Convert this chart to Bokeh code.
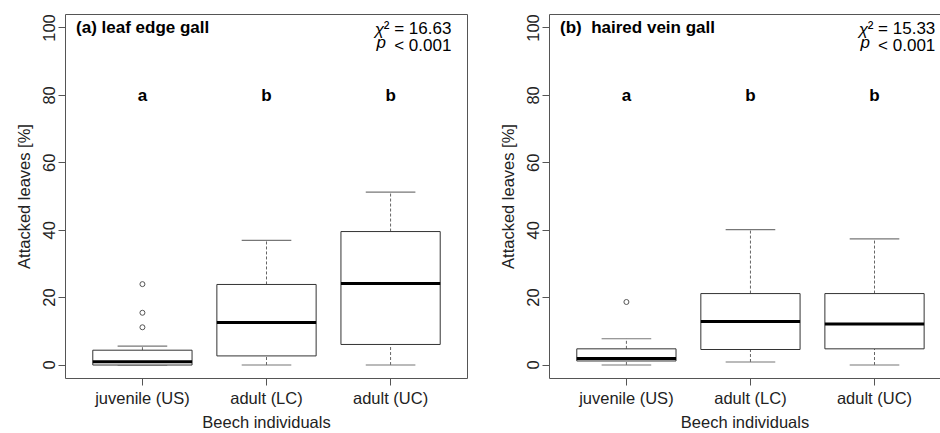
from bokeh.plotting import figure
from bokeh.layouts import row
from bokeh.models import Range1d, FixedTicker, LinearAxis, ColumnDataSource
from bokeh.core.properties import value
from bokeh.embed import file_html
from bokeh.resources import INLINE

# ---------------- data ----------------
categories = ["juvenile (US)", "adult (LC)", "adult (UC)"]
positions = [1, 2, 3]
sig_letters = ["a", "b", "b"]
letter_y = [80, 80, 80]

# panel (a) leaf edge gall
a_title = "(a) leaf edge gall"
a_chi = "² = 16.63"
a_q1 = [0.0, 2.7, 6.1]
a_med = [1.0, 12.6, 24.2]
a_q3 = [4.4, 23.9, 39.6]
a_lo = [0.0, 0.0, 0.0]
a_hi = [5.6, 37.0, 51.3]
a_out_pos = [1, 1, 1]
a_out = [24.0, 15.5, 11.2]

# panel (b) haired vein gall
b_title = "(b)\u00a0 haired vein gall"
b_chi = "² = 15.33"
b_q1 = [1.2, 4.6, 4.8]
b_med = [1.9, 12.9, 12.2]
b_q3 = [4.8, 21.2, 21.2]
b_lo = [0.0, 0.9, 0.0]
b_hi = [7.8, 40.2, 37.4]
b_out_pos = [1]
b_out = [18.7]

p_text = "< 0.001"
y_ticks = [0, 20, 40, 60, 80, 100]
y_label = "Attacked leaves [%]"
x_label = "Beech individuals"

FONT = "Liberation Sans"
BOXW = 0.8
CAPW = 0.4
FRAME = "#555555"
FS = "16.5px"


def make_panel(title, chi, q1, med, q3, lo, hi, out_pos, out, x_end, left_border, full_outline):
    p = figure(width=470, height=433,
               x_range=Range1d(0.38, x_end), y_range=Range1d(-4, 104),
               output_backend="svg", toolbar_location=None,
               min_border_left=left_border, min_border_right=(3 if full_outline else 0),
               min_border_top=14, min_border_bottom=55,
               background_fill_color="white", border_fill_color="white")
    p.xgrid.visible = False
    p.ygrid.visible = False
    p.outline_line_color = FRAME if full_outline else None

    # axes
    for ax in (p.xaxis[0], p.yaxis[0]):
        ax.major_tick_out = 7
        ax.major_tick_in = 0
        ax.minor_tick_line_color = None
        ax.major_tick_line_color = FRAME
        ax.axis_line_color = None if full_outline else FRAME
        ax.major_label_text_font = FONT
        ax.major_label_text_font_size = FS
        ax.major_label_text_color = "#222222"
        ax.axis_label_text_font = FONT
        ax.axis_label_text_font_size = FS
        ax.axis_label_text_font_style = "normal"
        ax.axis_label_text_color = "#222222"
    p.xaxis.ticker = FixedTicker(ticks=positions)
    p.xaxis.major_label_overrides = {pos: c for pos, c in zip(positions, categories)}
    p.xaxis.major_label_standoff = 3
    p.xaxis.axis_label = x_label
    p.xaxis.axis_label_standoff = 3
    p.yaxis.ticker = FixedTicker(ticks=y_ticks)
    p.yaxis.major_label_orientation = "vertical"
    p.yaxis.major_label_standoff = 3
    p.yaxis.axis_label = y_label
    p.yaxis.axis_label_standoff = 8

    if not full_outline:
        top = LinearAxis(ticker=FixedTicker(ticks=[]), axis_line_color=FRAME,
                         major_tick_out=0, major_tick_in=0, minor_tick_out=0, minor_tick_in=0,
                         major_label_text_font_size="0px")
        p.add_layout(top, "above")

    src = ColumnDataSource(dict(
        x=positions, q1=q1, med=med, q3=q3, lo=lo, hi=hi,
        xl=[x - BOXW / 2 for x in positions], xr=[x + BOXW / 2 for x in positions],
        cl=[x - CAPW / 2 for x in positions], cr=[x + CAPW / 2 for x in positions]))

    # whiskers (dashed)
    p.segment(x0="x", y0="q3", x1="x", y1="hi", source=src, line_color="#666666",
              line_dash="3 2", line_width=1)
    p.segment(x0="x", y0="lo", x1="x", y1="q1", source=src, line_color="#666666",
              line_dash="3 2", line_width=1)
    # caps
    p.segment(x0="cl", y0="hi", x1="cr", y1="hi", source=src, line_color="#777777", line_width=1.2)
    p.segment(x0="cl", y0="lo", x1="cr", y1="lo", source=src, line_color="#777777", line_width=1.2)
    # boxes
    p.quad(left="xl", right="xr", bottom="q1", top="q3", source=src,
           fill_color="white", line_color="#333333", line_width=1)
    # medians
    p.segment(x0="xl", y0="med", x1="xr", y1="med", source=src, line_color="black", line_width=3)
    # outliers
    p.scatter(x=out_pos, y=out, size=5, marker="circle", fill_color=None,
              line_color="#555555", line_width=1)

    # significance letters
    p.text(x=positions, y=letter_y, text=sig_letters, text_font=value(FONT),
           text_font_style="bold", text_font_size="17px", text_align="center",
           text_baseline="middle", text_color="black")
    # panel title
    p.text(x=[0.465], y=[100.2], text=[title], text_font=value(FONT), text_font_style="bold",
           text_font_size="17px", text_align="left", text_baseline="middle", text_color="black")
    # statistics
    p.text(x=[2.91], y=[99.6], text=["χ"], text_font=value(FONT), text_font_style="italic",
           text_font_size="17px", text_align="center", text_baseline="middle", text_color="black")
    p.text(x=[3.49], y=[99.8], text=[chi], text_font=value(FONT), text_font_size="17px",
           text_align="right", text_baseline="middle", text_color="black")
    p.text(x=[3.49], y=[94.8], text=[p_text], text_font=value(FONT), text_font_size="17px",
           text_align="right", text_baseline="middle", text_color="black")
    p.text(x=[2.925], y=[95.6], text=["p"], text_font=value(FONT), text_font_style="italic",
           text_font_size="17px", text_align="center", text_baseline="middle", text_color="black")
    return p


p1 = make_panel(a_title, a_chi, a_q1, a_med, a_q3, a_lo, a_hi, a_out_pos, a_out,
                3.62, 65, True)
p2 = make_panel(b_title, b_chi, b_q1, b_med, b_q3, b_lo, b_hi, b_out_pos, b_out,
                3.532, 79, False)

layout = row(p1, p2)
open("out.html", "w").write(file_html(layout, INLINE))
